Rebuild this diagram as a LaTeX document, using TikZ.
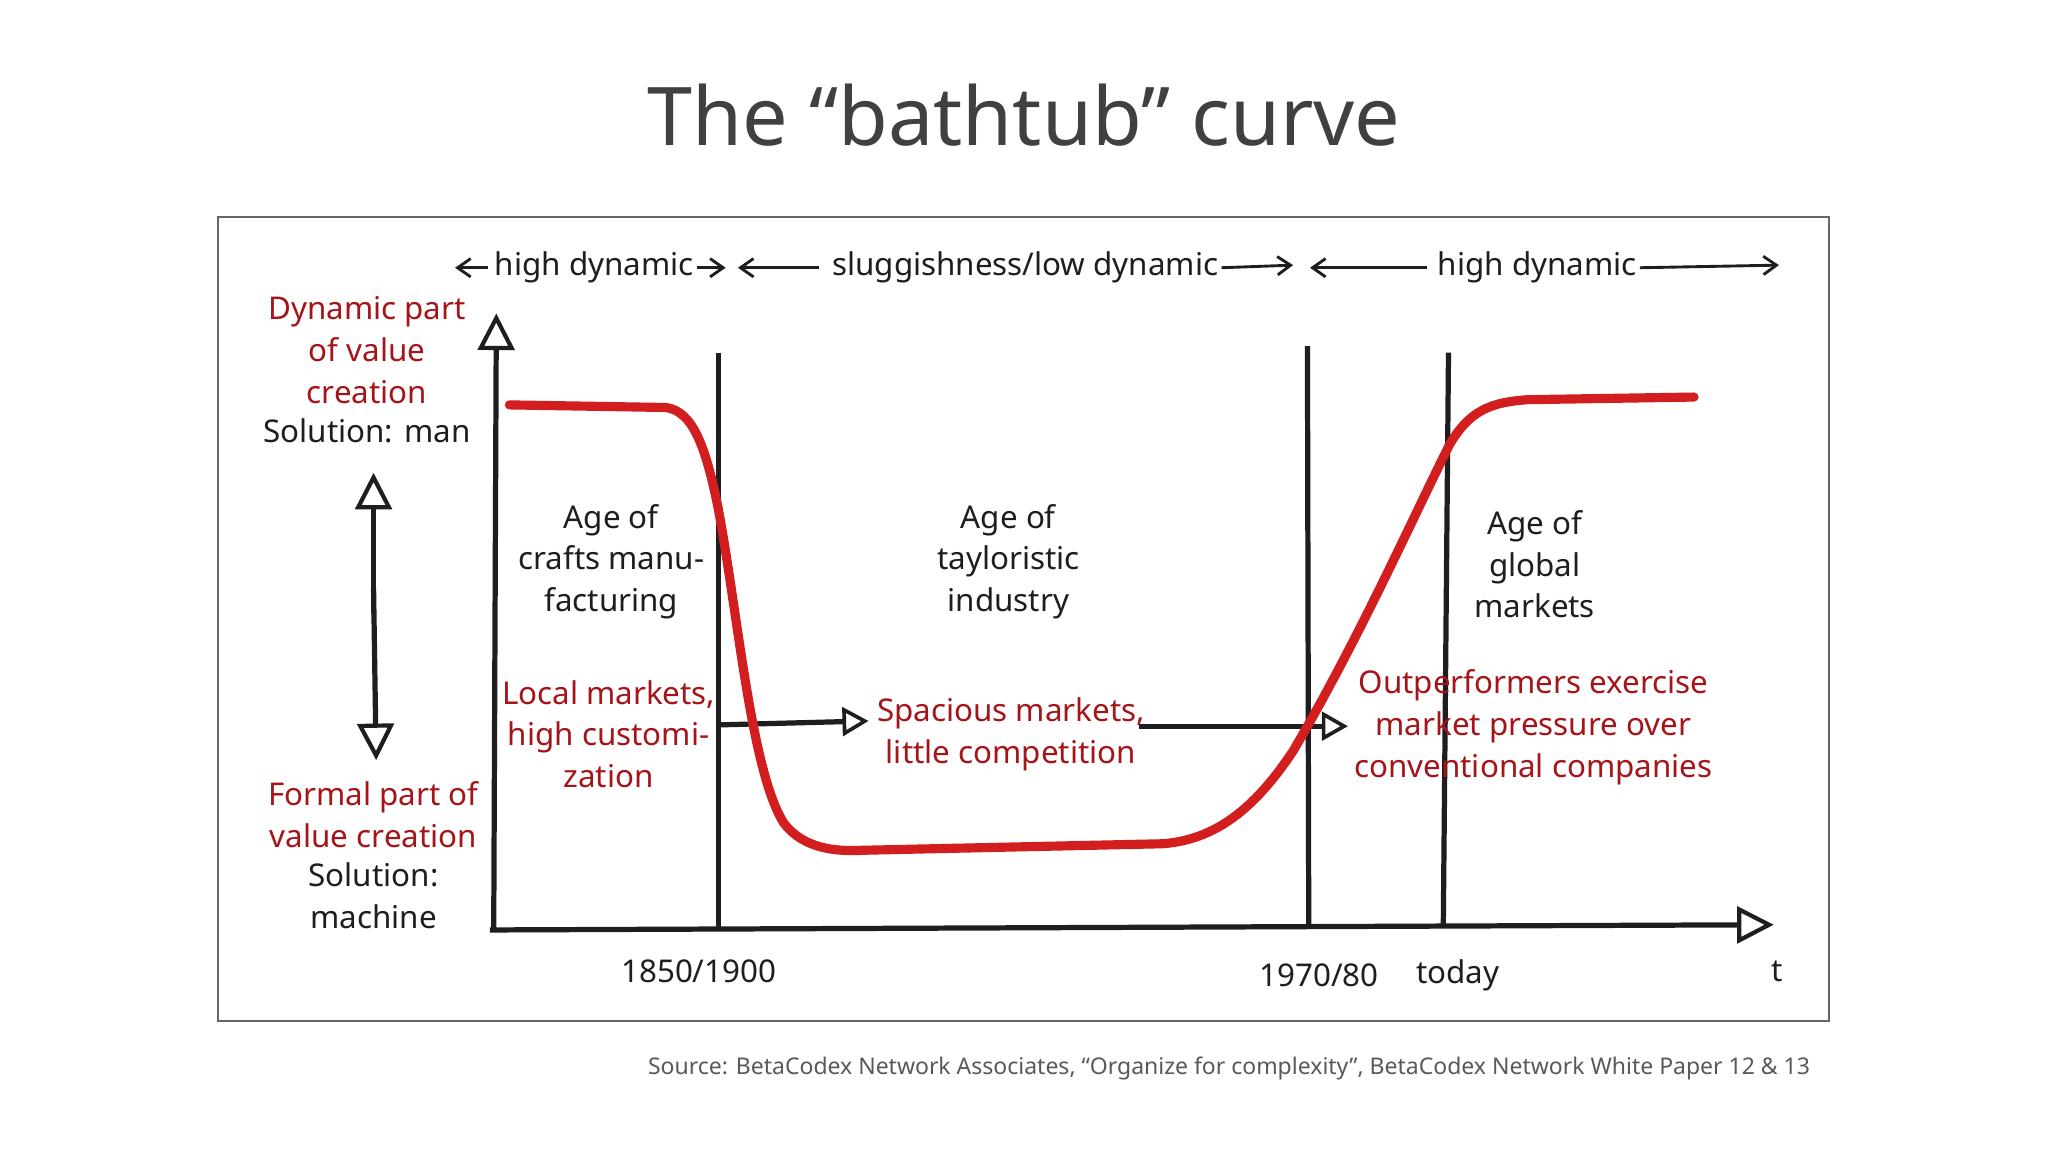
\documentclass[tikz,border=0pt]{standalone}
\usepackage{fontspec}
\setmainfont{Noto Sans}
\usetikzlibrary{arrows.meta}
\definecolor{dred}{RGB}{165,20,25}
\definecolor{cred}{RGB}{210,30,30}
\definecolor{ink}{RGB}{30,30,30}
\begin{document}
\begin{tikzpicture}[x=0.5pt,y=-0.5pt,
  lbl/.style={align=center,font=\fontsize{12}{16}\selectfont,text=ink,inner sep=0pt},
  rlbl/.style={lbl,text=dred},
  axis/.style={line width=2pt,draw=ink},
  tri/.style={-{Triangle[open,length=14pt,width=14pt,line width=1.6pt]}},
  sm/.style={-{Straight Barb[length=5pt,width=7pt]},line width=1.1pt,draw=ink}]
\useasboundingbox (0,0) rectangle (1568,881);
\fill[white] (0,0) rectangle (1568,881);
\draw[gray!80!black,line width=0.8pt] (167,166) rectangle (1400,782);
\node[font=\fontsize{31}{36}\selectfont,text=black!75] (title) at (784,88) {The “bathtub” curve};
% axes
\coordinate (o) at (378,712);
\coordinate (ytop) at (380,240);
\coordinate (xend) at (1358,708);
\draw[axis,tri] (o) -- (ytop);
\draw[axis,tri] (375,712) -- (xend);
% verticals
\coordinate (v1a) at (550,270); \coordinate (v1b) at (550,710);
\coordinate (v2a) at (1001,265); \coordinate (v2b) at (1002,710);
\coordinate (v3a) at (1109,270); \coordinate (v3b) at (1105,710);
\draw[axis] (v1a) -- (v1b);
\draw[axis] (v2a) -- (v2b);
\draw[axis] (v3a) -- (v3b);
% double arrow
\coordinate (dt) at (286,362); \coordinate (db) at (288,582);
\draw[axis,tri] (286,470) -- (dt);
\draw[axis,tri] (286,450) -- (db);
% horizontal arrows
\coordinate (h1a) at (550,555); \coordinate (h1b) at (665,552);
\coordinate (h2a) at (872,556); \coordinate (h2b) at (1032,556);
\draw[axis,-{Triangle[open,length=10pt,width=11pt,line width=1.4pt]}] (h1a) -- (h1b);
\draw[axis,-{Triangle[open,length=10pt,width=11pt,line width=1.4pt]}] (h2a) -- (h2b);
% red curve
\draw[cred,line width=3.5pt,line cap=round]
 (390,310) -- (510,312) .. controls (530,315) and (540,340) .. (550,390)
 .. controls (565,470) and (575,590) .. (600,630)
 .. controls (615,650) and (640,652) .. (660,651)
 -- (890,646) .. controls (930,643) and (960,620) .. (990,575)
 .. controls (1040,490) and (1080,400) .. (1110,340)
 .. controls (1125,315) and (1140,308) .. (1170,306) -- (1297,304);
% top labels
\node[lbl] (hd1) at (455,205) {high dynamic};
\draw[sm] (hd1.west) ++(-5,0) -- ++(-25,0);
\draw[sm] (hd1.east) ++(2,0) -- ++(22,0);
\node[lbl] (sl) at (785,205) {sluggishness/low dynamic};
\draw[sm] (sl.west) ++(-10,0) -- (565,205);
\draw[sm] (sl.east) ++(2,0) -- (990,203);
\node[lbl] (hd2) at (1177,205) {high dynamic};
\draw[sm] (hd2.west) ++(-8,0) -- (1003,205);
\draw[sm] (hd2.east) ++(2,0) -- (1362,203);
% left labels
\node[rlbl] (dyn) at (281,268) {Dynamic part\\of value\\creation};
\node[lbl] (man) at (281,330) {Solution: man};
\node[rlbl] (form) at (286,624) {Formal part of\\value creation};
\node[lbl] (mach) at (286,686) {Solution:\\machine};
% ages
\node[lbl] (a1) at (468,430) {Age of\\crafts manu-\\facturing};
\node[lbl] (a2) at (772,430) {Age of\\tayloristic\\industry};
\node[lbl] (a3) at (1175,432) {Age of\\global\\markets};
\node[rlbl] (m1) at (466,562) {Local markets,\\high customi-\\zation};
\node[rlbl] (m2) at (774,562) {Spacious markets,\\little competition};
\node[rlbl] (m3) at (1174,557) {Outperformers exercise\\market pressure over\\conventional companies};
% bottom
\node[lbl] (t1) at (535,744) {1850/1900};
\node[lbl] (t2) at (1010,747) {1970/80};
\node[lbl] (t3) at (1116,747) {today};
\node[lbl] (t4) at (1361,744) {t};
\node[font=\fontsize{8.8}{11}\selectfont,text=black!65] (src) at (941,818) {Source: BetaCodex Network Associates, “Organize for complexity”, BetaCodex Network White Paper 12 \& 13};
\end{tikzpicture}
\end{document}
